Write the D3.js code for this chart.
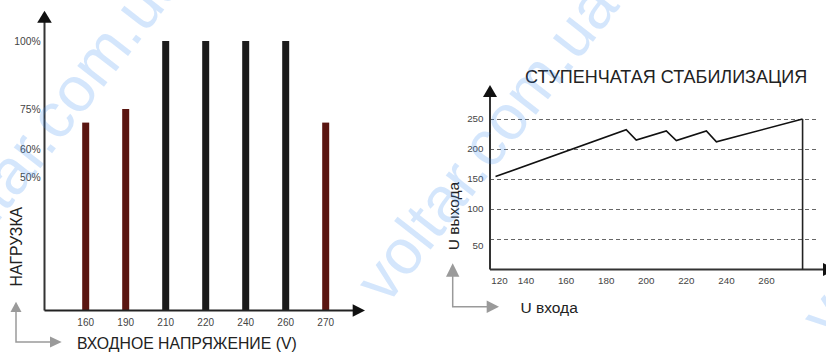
<!DOCTYPE html>
<html><head><meta charset="utf-8">
<script src="https://cdn.jsdelivr.net/npm/d3@7"></script>
<style>html,body{margin:0;padding:0;background:#fff;}svg{display:block;font-family:"Liberation Sans",Arial,sans-serif;}</style>
</head><body>
<script>
// ---- Left chart data ----
const loadCategories = ["160","190","210","220","240","260","270"];
const loadValues = [70, 75, 100, 100, 100, 100, 70];
const loadReduced = [true, true, false, false, false, false, true];
const loadTicks = [50, 60, 75, 100];
// ---- Right chart data ----
const inVoltage = [117, 190, 195, 210, 215, 230, 235, 278];
const outVoltage = [154, 232, 215, 230, 214, 230, 212, 250];
const inTicks = [120, 140, 160, 180, 200, 220, 240, 260];
const outTicks = [50, 100, 150, 200, 250];

const W = 826, H = 353;
const svg = d3.select("body").append("svg").attr("width", W).attr("height", H);

function tri(g, pts, fill){ g.append("path").attr("d","M"+pts.map(p=>p.join(",")).join("L")+"Z").attr("fill",fill); }

// ================= LEFT CHART =================
const yL = d3.scaleLinear().domain([0,100]).range([313,41]);
const xL = d3.scaleBand().domain(loadCategories).range([65.7,345.7]).padding(0);
const baseL = 310.5, axL = 44.5;
const gL = svg.append("g");

gL.selectAll("rect.bar").data(loadCategories).join("rect")
  .attr("class","bar")
  .attr("x", d => xL(d) + xL.bandwidth()/2 - 3.5)
  .attr("width", 7)
  .attr("y", (d,i) => yL(loadValues[i]))
  .attr("height", (d,i) => baseL - yL(loadValues[i]))
  .attr("fill", (d,i) => loadReduced[i] ? "#5a1510" : "#1b1b1b");

// axes
gL.append("line").attr("x1",axL).attr("x2",axL).attr("y1",baseL).attr("y2",20).attr("stroke","#333").attr("stroke-width",2);
tri(gL, [[axL,10.7],[axL-7.3,22.7],[axL+7.3,22.7]], "#111");
gL.append("line").attr("x1",axL).attr("x2",355).attr("y1",baseL).attr("y2",baseL).attr("stroke","#222").attr("stroke-width",2);
tri(gL, [[365,baseL],[352.7,baseL-6.3],[352.7,baseL+6.3]], "#111");

gL.selectAll("text.yt").data(loadTicks).join("text").attr("class","yt")
  .attr("x",40.7).attr("y",d=>yL(d)).attr("dy","0.35em").attr("text-anchor","end")
  .attr("font-size",10.3).attr("fill","#444").text(d=>d+"%");
gL.selectAll("text.xt").data(loadCategories).join("text").attr("class","xt")
  .attr("x",d=>xL(d)+xL.bandwidth()/2).attr("y",322.7).attr("dy","0.35em").attr("text-anchor","middle")
  .attr("font-size",10).attr("fill","#444").text(d=>d);

gL.append("text").attr("transform","translate(22,246.7) rotate(-90)").attr("text-anchor","middle")
  .attr("font-size",15.8).attr("fill","#222").text("НАГРУЗКА");
gL.append("text").attr("x",77).attr("y",343).attr("dy","0.35em")
  .attr("font-size",15.8).attr("fill","#222").text("ВХОДНОЕ НАПРЯЖЕНИЕ (V)");
// gray direction arrows
gL.append("path").attr("d","M16,311 L16,342 L51,342").attr("fill","none").attr("stroke","#9a9a9a").attr("stroke-width",1.5);
tri(gL, [[16,301.7],[10.5,312],[21.5,312]], "#9a9a9a");
tri(gL, [[61.7,342],[50,336.5],[50,347.5]], "#9a9a9a");

// ================= RIGHT CHART =================
const yR = d3.scaleLinear().domain([0,250]).range([269,119]);
const xR = d3.scaleLinear().domain([120,140,260]).range([499.5,526,766.5]);
const baseR = 269.5, axR = 490;
const gR = svg.append("g");

gR.selectAll("line.grid").data(outTicks).join("line").attr("class","grid")
  .attr("x1",axR).attr("x2",817).attr("y1",d=>Math.round(yR(d))+0.5).attr("y2",d=>Math.round(yR(d))+0.5)
  .attr("stroke","#666").attr("stroke-width",1).attr("stroke-dasharray","4,3");

gR.append("line").attr("x1",axR).attr("x2",axR).attr("y1",baseR).attr("y2",95).attr("stroke","#333").attr("stroke-width",2);
tri(gR, [[axR,85],[axR-7,97],[axR+7,97]], "#111");
gR.append("line").attr("x1",axR).attr("x2",826).attr("y1",baseR).attr("y2",baseR).attr("stroke","#333").attr("stroke-width",2);
tri(gR, [[836,baseR],[823,baseR-6.5],[823,baseR+6.5]], "#111");

const line = d3.line().x(d=>xR(d[0])).y(d=>yR(d[1]));
gR.append("path").datum(inVoltage.map((v,i)=>[v,outVoltage[i]]))
  .attr("d",line).attr("fill","none").attr("stroke","#111").attr("stroke-width",1.6).attr("stroke-linejoin","miter");
const lastIn = inVoltage[inVoltage.length-1], lastOut = outVoltage[outVoltage.length-1];
gR.append("line").attr("x1",xR(lastIn)).attr("x2",xR(lastIn)).attr("y1",yR(lastOut)).attr("y2",baseR)
  .attr("stroke","#222").attr("stroke-width",1.6);

gR.selectAll("text.yt").data(outTicks).join("text").attr("class","yt")
  .attr("x",483.5).attr("y",d=>yR(d) + (d===50 ? 7 : 0)).attr("dy","0.35em").attr("text-anchor","end")
  .attr("font-size",9.8).attr("fill","#444").text(d=>d);
gR.selectAll("text.xt").data(inTicks).join("text").attr("class","xt")
  .attr("x",d=>xR(d)).attr("y",281).attr("dy","0.35em").attr("text-anchor","middle")
  .attr("font-size",9.8).attr("fill","#444").text(d=>d);

gR.append("text").attr("x",525).attr("y",77).attr("dy","0.35em")
  .attr("font-size",18).attr("fill","#222").text("СТУПЕНЧАТАЯ СТАБИЛИЗАЦИЯ");
gR.append("text").attr("transform","translate(459,216) rotate(-90)").attr("text-anchor","middle")
  .attr("font-size",15.5).attr("fill","#222").text("U выхода");
gR.append("text").attr("x",520.5).attr("y",308).attr("dy","0.35em")
  .attr("font-size",15.5).attr("fill","#222").text("U входа");
gR.append("path").attr("d","M452.7,276 L452.7,306.7 L487,306.7").attr("fill","none").attr("stroke","#9a9a9a").attr("stroke-width",1.5);
tri(gR, [[452.7,263.3],[446,276.7],[459.4,276.7]], "#9a9a9a");
tri(gR, [[499,306.7],[486.7,300.5],[486.7,312.9]], "#9a9a9a");

// ================= WATERMARK =================
const wmCenters = [[58,118],[490,146],[935,180]];
svg.append("g").selectAll("text.wm").data(wmCenters).join("text").attr("class","wm")
  .attr("transform",d=>`translate(${d[0]},${d[1]}) rotate(-52)`)
  .attr("x",-190).attr("y",17).attr("font-size",64)
  .attr("fill","#3d8ef0").attr("fill-opacity",0.22).text("voltar.com.ua");
</script>
</body></html>
